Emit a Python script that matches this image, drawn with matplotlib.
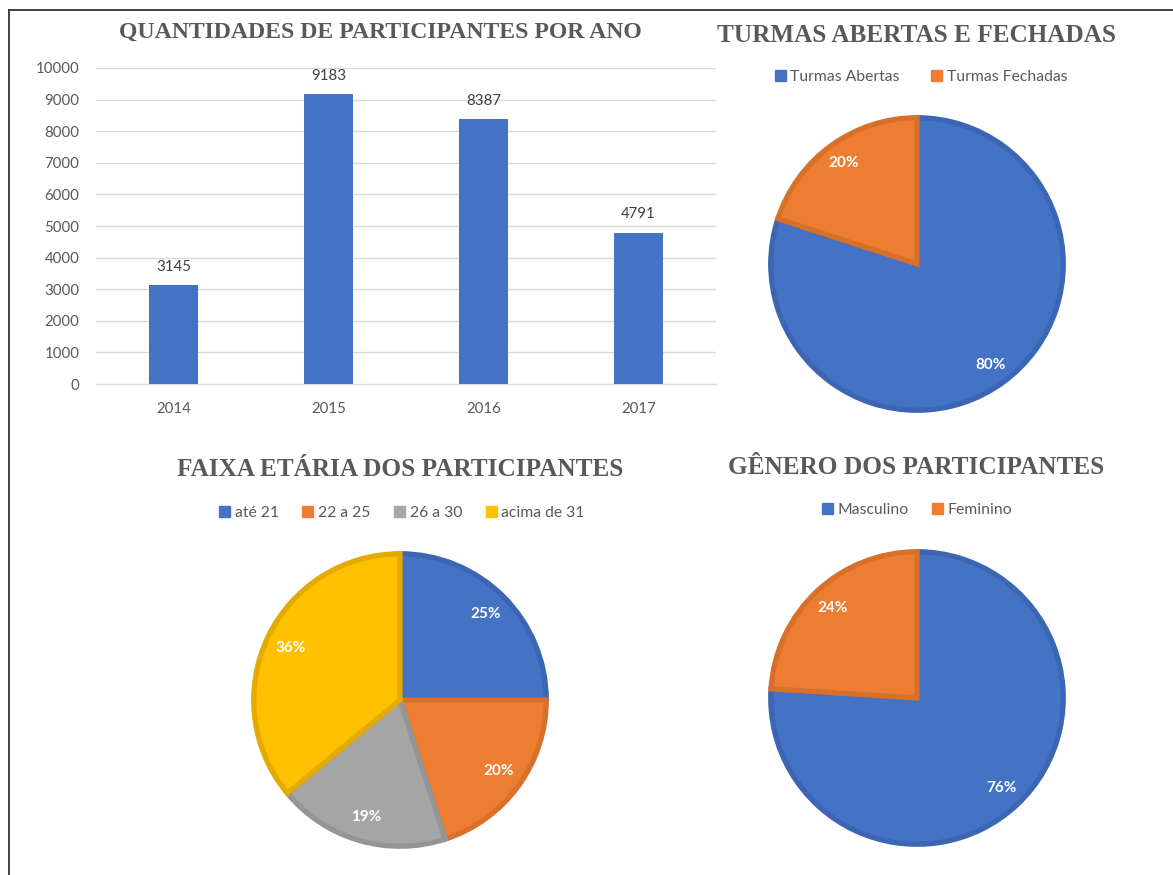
import matplotlib
matplotlib.use("Agg")
import matplotlib.pyplot as plt
from matplotlib.lines import Line2D
from matplotlib.patches import Patch

# ---------------- data ----------------
years = ["2014", "2015", "2016", "2017"]
participants = [3145, 9183, 8387, 4791]

turmas_labels = ["Turmas Abertas", "Turmas Fechadas"]
turmas_values = [80, 20]

faixa_labels = ["até 21", "22 a 25", "26 a 30", "acima de 31"]
faixa_values = [25, 20, 19, 36]

genero_labels = ["Masculino", "Feminino"]
genero_values = [76, 24]

# ---------------- style ----------------
W, H = 1173, 875
BLUE, ORANGE, GRAY, GOLD = "#4472C4", "#ED7D31", "#A5A5A5", "#FFC000"
EDGE = {BLUE: "#3C66B4", ORANGE: "#D8702A", GRAY: "#959595", GOLD: "#E3AB00"}
TXT = "#595959"
SANS = ["Lato", "DejaVu Sans"]
SERIF = ["Liberation Serif", "DejaVu Serif"]

fig = plt.figure(figsize=(W / 100, H / 100), dpi=100)
fig.patch.set_facecolor("white")


def px_axes(x0, y0, x1, y1):
    """axes from pixel box (top-left origin)"""
    return fig.add_axes([x0 / W, (H - y1) / H, (x1 - x0) / W, (y1 - y0) / H])


def title(x, y, s, size):
    fig.text(x / W, 1 - y / H, s, ha="center", va="center", fontsize=size,
             fontweight="bold", family=SERIF, color=TXT)


def legend(cx, cy, labels, colors, spacing):
    handles = [Patch(facecolor=c, edgecolor=c) for c in colors]
    fig.legend(handles, labels, loc="center", bbox_to_anchor=(cx / W, 1 - cy / H),
               ncol=len(labels), frameon=False, handlelength=0.7, handleheight=0.7,
               handletextpad=0.3, columnspacing=spacing,
               prop={"family": SANS, "size": 11.3}, labelcolor=TXT)


def pie(cx, cy, r, values, colors, pctd):
    ax = px_axes(cx - r, cy - r, cx + r, cy + r)
    wedges, _, autotexts = ax.pie(values, colors=colors, startangle=90, counterclock=False,
                                  autopct="%d%%", pctdistance=pctd, radius=0.975,
                                  wedgeprops={"linewidth": 3.8},
                                  textprops={"color": "white", "fontsize": 11,
                                             "fontweight": "bold", "family": SANS})
    for w, c in zip(wedges, colors):
        w.set_edgecolor(EDGE[c])
        w.set_joinstyle("miter")
    ax.set_xlim(-1, 1)
    ax.set_ylim(-1, 1)
    ax.set_aspect("equal")
    ax.axis("off")
    return ax


# ---------------- bar chart ----------------
ax = px_axes(96, 68, 716, 384)
x = list(range(len(years)))
bars = ax.bar(x, participants, width=0.32, color=BLUE, zorder=3)
ax.set_xlim(-0.5, 3.5)
ax.set_ylim(0, 10000)
ax.set_yticks(range(0, 10001, 1000))
ax.set_xticks(x)
ax.set_xticklabels(years)
ax.grid(axis="y", color="#D9D9D9", linewidth=1, zorder=0)
for s in ["top", "right", "left"]:
    ax.spines[s].set_visible(False)
ax.spines["bottom"].set_color("#D9D9D9")
ax.tick_params(axis="both", length=0, labelsize=10.8, labelcolor=TXT)
ax.tick_params(axis="x", pad=13)
ax.tick_params(axis="y", pad=12)
for lab in ax.get_xticklabels() + ax.get_yticklabels():
    lab.set_family(SANS)
for b, v in zip(bars, participants):
    ax.annotate(str(v), (b.get_x() + b.get_width() / 2, v), xytext=(0, 8),
                textcoords="offset points", ha="center", va="bottom",
                fontsize=10.8, color="#404040", family=SANS)
title(380, 32, "QUANTIDADES DE PARTICIPANTES POR ANO", 17.1)

# ---------------- pie: turmas ----------------
title(917, 35, "TURMAS ABERTAS E FECHADAS", 18.2)
legend(921, 77, turmas_labels, [BLUE, ORANGE], 2.0)
pie(917, 264, 150, turmas_values, [BLUE, ORANGE], 0.85)

# ---------------- pie: faixa etária ----------------
title(400, 470, "FAIXA ETÁRIA DOS PARTICIPANTES", 18.2)
legend(402, 513, faixa_labels, [BLUE, ORANGE, GRAY, GOLD], 1.5)
pie(400, 700, 150, faixa_values, [BLUE, ORANGE, GRAY, GOLD], 0.83)

# ---------------- pie: gênero ----------------
title(916, 467, "GÊNERO DOS PARTICIPANTES", 18.2)
legend(917, 510, genero_labels, [BLUE, ORANGE], 1.5)
pie(917, 698, 150, genero_values, [BLUE, ORANGE], 0.84)

# ---------------- border ----------------
fig.add_artist(Line2D([9 / W, 9 / W], [0, 1 - 10 / H], color="#333333", linewidth=1.3))
fig.add_artist(Line2D([9 / W, 1], [1 - 10 / H, 1 - 10 / H], color="#333333", linewidth=1.3))

fig.savefig("out.png", dpi=100, facecolor="white")
